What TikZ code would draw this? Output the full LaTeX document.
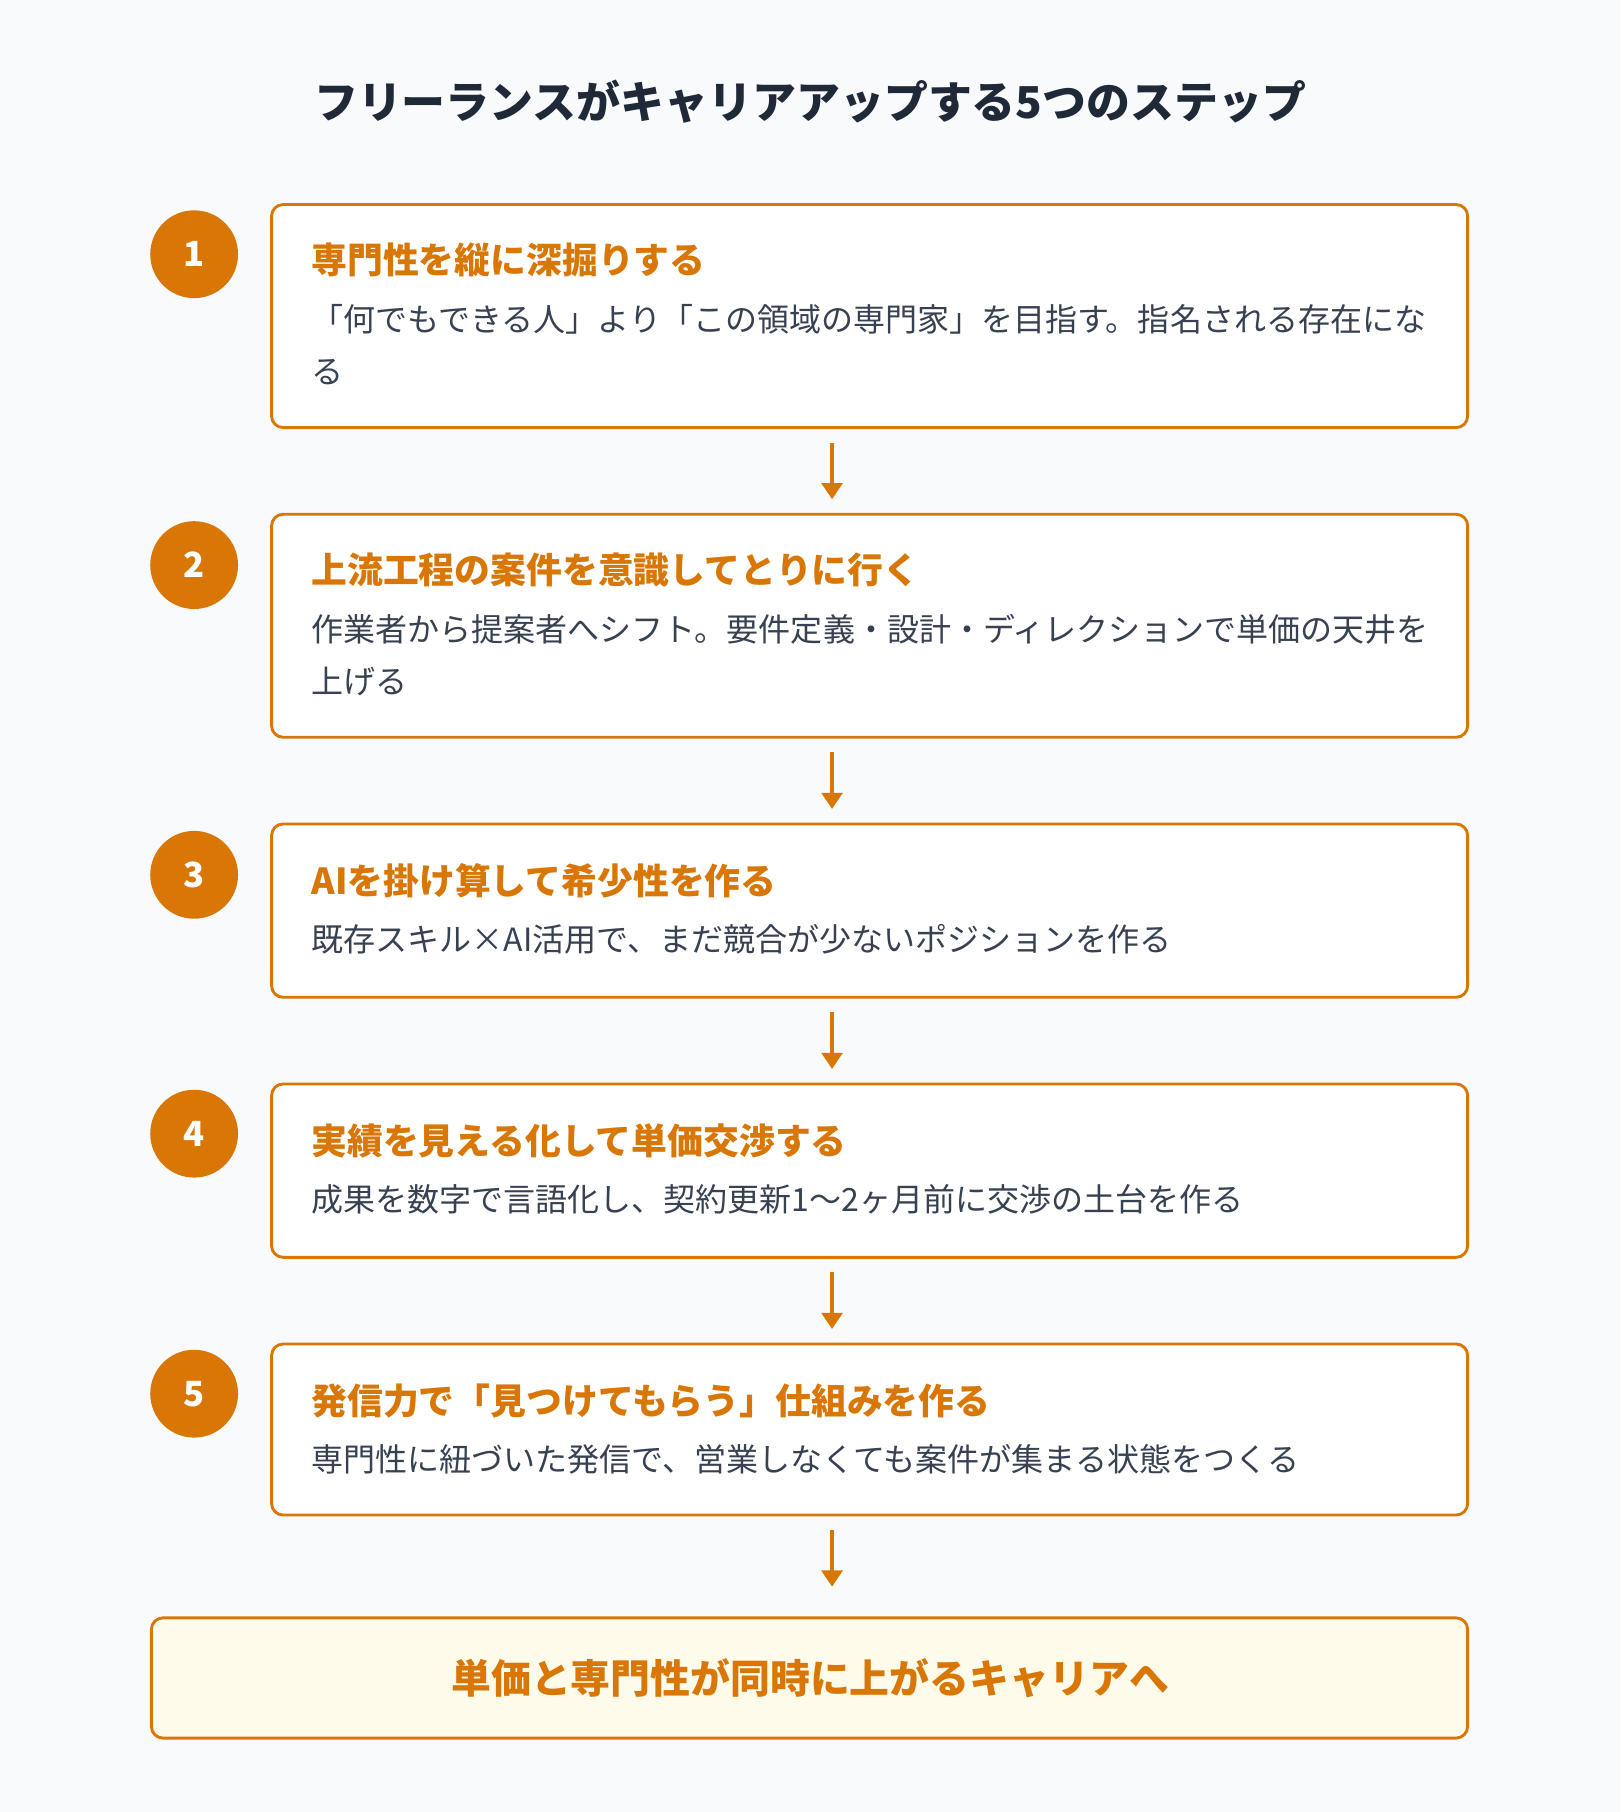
\documentclass[tikz,border=0pt]{standalone}
\usepackage{fontspec}
\setmainfont{Noto Sans CJK JP}
\definecolor{org}{HTML}{D97706}
\definecolor{bg}{HTML}{F8FAFC}
\definecolor{ink}{HTML}{1F2937}
\definecolor{body}{HTML}{374151}
\definecolor{cream}{HTML}{FFFBEB}
\usetikzlibrary{arrows.meta}
\begin{document}
\begin{tikzpicture}[x=1pt,y=-1pt,
  card/.style={draw=org,line width=2.5pt,fill=white,rounded corners=10pt},
  num/.style={circle,fill=org,minimum size=76pt,inner sep=0pt,text=white,font=\fontsize{30}{32}\selectfont\bfseries},
  head/.style={anchor=west,text=org,font=\fontsize{31}{34}\selectfont\bfseries},
  txt/.style={anchor=west,text=body,align=left,font=\fontsize{27.7}{45}\selectfont},
  arr/.style={draw=org,line width=3pt,-{Triangle[length=14pt,width=18pt]}}]
\fill[bg] (0,0) rectangle (1402,1568);
\useasboundingbox (0,0) rectangle (1402,1568);
\node[text=ink,font=\fontsize{38}{42}\selectfont\bfseries] (title) at (701,88) {フリーランスがキャリアアップする5つのステップ};
% boxes
\draw[card] (235,177) rectangle (1270,370);
\draw[card] (235,445) rectangle (1270,638);
\draw[card] (235,713) rectangle (1270,863);
\draw[card] (235,938) rectangle (1270,1088);
\draw[card] (235,1163) rectangle (1270,1311);
\draw[card,fill=cream] (131,1400) rectangle (1270,1504);
\node[text=org,font=\fontsize{34.5}{38}\selectfont\bfseries] (final) at (701,1452) {単価と専門性が同時に上がるキャリアへ};
% circles
\node[num] (c1) at (168,220) {1};
\node[num] (c2) at (168,489) {2};
\node[num] (c3) at (168,757) {3};
\node[num] (c4) at (168,981) {4};
\node[num] (c5) at (168,1206) {5};
% texts
\node[head] (h1) at (266,225) {専門性を縦に深掘りする};
\node[txt,anchor=north west] (t1) at (266,260) {「何でもできる人」より「この領域の専門家」を目指す。指名される存在にな\\る};
\node[head] (h2) at (266,493) {上流工程の案件を意識してとりに行く};
\node[txt,anchor=north west] (t2) at (266,528) {作業者から提案者へシフト。要件定義・設計・ディレクションで単価の天井を\\上げる};
\node[head] (h3) at (266,762) {AIを掛け算して希少性を作る};
\node[txt] (t3) at (266,813) {既存スキル×AI活用で、まだ競合が少ないポジションを作る};
\node[head] (h4) at (266,987) {実績を見える化して単価交渉する};
\node[txt] (t4) at (266,1038) {成果を数字で言語化し、契約更新1〜2ヶ月前に交渉の土台を作る};
\node[head] (h5) at (266,1212) {発信力で「見つけてもらう」仕組みを作る};
\node[txt] (t5) at (266,1263) {専門性に紐づいた発信で、営業しなくても案件が集まる状態をつくる};
% arrows
\path (720,383) coordinate (a1s) (720,432) coordinate (a1e)
      (720,651) coordinate (a2s) (720,700) coordinate (a2e)
      (720,876) coordinate (a3s) (720,925) coordinate (a3e)
      (720,1101) coordinate (a4s) (720,1150) coordinate (a4e)
      (720,1324) coordinate (a5s) (720,1373) coordinate (a5e);
\draw[arr] (a1s) -- (a1e);
\draw[arr] (a2s) -- (a2e);
\draw[arr] (a3s) -- (a3e);
\draw[arr] (a4s) -- (a4e);
\draw[arr] (a5s) -- (a5e);
\end{tikzpicture}
\end{document}
